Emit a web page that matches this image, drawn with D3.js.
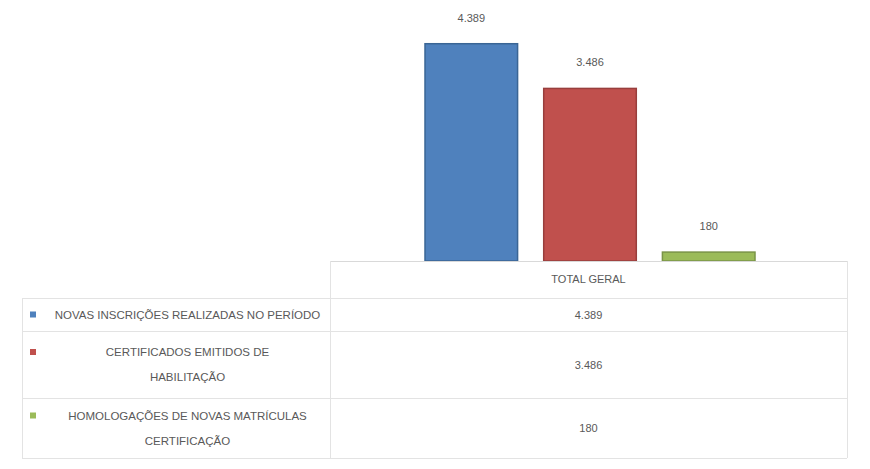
<!DOCTYPE html>
<html><head><meta charset="utf-8">
<script src="https://cdn.jsdelivr.net/npm/d3@7"></script>
<style>body{margin:0;background:#fff;}svg{display:block;font-family:"Liberation Sans",Arial,sans-serif;}</style>
</head><body><svg id="c" width="870" height="469"></svg>
<script>
const categories = ["TOTAL GERAL"];
const seriesNames = [
  ["NOVAS INSCRIÇÕES REALIZADAS NO PERÍODO"],
  ["CERTIFICADOS EMITIDOS DE", "HABILITAÇÃO"],
  ["HOMOLOGAÇÕES DE NOVAS MATRÍCULAS", "CERTIFICAÇÃO"]
];
const seriesValues = [4389, 3486, 180];
const seriesColors = ["#4F81BD", "#C0504D", "#9BBB59"];
const seriesStroke = ["#3A6595", "#983E3C", "#7A9447"];

const fmt = v => d3.format(",")(v).replace(/,/g, ".");
const svg = d3.select("#c");

const tableLeft = 22, headRight = 330, tableRight = 847;
const base = 261;
const y = d3.scaleLinear().domain([0, 5050]).range([base, 11]);
const x0 = d3.scaleBand().domain(categories).range([headRight, tableRight]);
const x1 = d3.scaleBand().domain(d3.range(seriesValues.length)).range([x0(categories[0]) + 95, x0(categories[0]) + x0.bandwidth() - 92]).paddingInner(0.22);

// bars
const g = svg.append("g");
seriesValues.forEach((v, i) => {
  g.append("rect")
    .attr("x", x1(i)).attr("y", y(v))
    .attr("width", x1.bandwidth()).attr("height", base - y(v))
    .attr("fill", seriesColors[i]).attr("stroke", seriesStroke[i]).attr("stroke-width", 1.5);
  g.append("text")
    .attr("x", x1(i) + x1.bandwidth() / 2).attr("y", y(v) - 22)
    .attr("text-anchor", "middle").attr("font-size", 11).attr("fill", "#595959")
    .text(fmt(v));
});

// axis line
svg.append("line").attr("x1", headRight).attr("x2", tableRight).attr("y1", base + 0.5).attr("y2", base + 0.5).attr("stroke", "#D9D9D9");

// data table grid
const rowEdges = [base, 298, 331, 398, 458];
const lc = "#E3E3E3";
rowEdges.slice(1).forEach(yy => {
  svg.append("line").attr("x1", tableLeft).attr("x2", tableRight).attr("y1", yy + 0.5).attr("y2", yy + 0.5).attr("stroke", lc);
});
svg.append("line").attr("x1", tableLeft + 0.5).attr("x2", tableLeft + 0.5).attr("y1", rowEdges[1]).attr("y2", rowEdges[4]).attr("stroke", lc);
svg.append("line").attr("x1", headRight + 0.5).attr("x2", headRight + 0.5).attr("y1", base).attr("y2", rowEdges[4]).attr("stroke", lc);
svg.append("line").attr("x1", tableRight + 0.5).attr("x2", tableRight + 0.5).attr("y1", base).attr("y2", rowEdges[4]).attr("stroke", lc);

// category label
svg.append("text").attr("x", x0(categories[0]) + x0.bandwidth() / 2).attr("y", 283)
  .attr("text-anchor", "middle").attr("font-size", 11).attr("fill", "#595959").text(categories[0]);

// rows
seriesNames.forEach((lines, i) => {
  const top = rowEdges[i + 1], bot = rowEdges[i + 2];
  const mid = (top + bot) / 2;
  const lh = 25;
  const startY = mid - (lines.length - 1) * lh / 2 + 4;
  const cx = 45 + (headRight - 45) / 2;
  lines.forEach((t, j) => {
    svg.append("text").attr("x", cx).attr("y", startY + j * lh)
      .attr("text-anchor", "middle").attr("font-size", 11.5).attr("fill", "#595959").text(t);
  });
  svg.append("rect").attr("x", 30).attr("y", startY - 7).attr("width", 6).attr("height", 6)
    .attr("fill", seriesColors[i]);
  svg.append("text").attr("x", x0(categories[0]) + x0.bandwidth() / 2).attr("y", mid + 4)
    .attr("text-anchor", "middle").attr("font-size", 11).attr("fill", "#595959").text(fmt(seriesValues[i]));
});
</script></body></html>
